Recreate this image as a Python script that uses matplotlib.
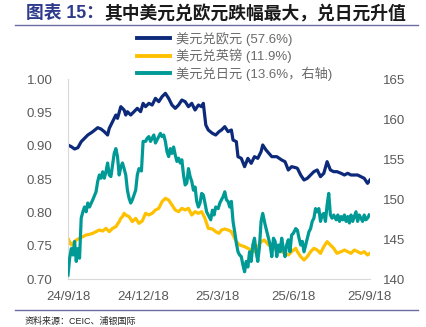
import matplotlib
matplotlib.use("Agg")
import matplotlib.pyplot as plt
import pandas as pd
from matplotlib.lines import Line2D

plt.rcParams['font.family'] = ['Liberation Sans', 'Noto Sans CJK SC']

START_DATE = "2024-09-18"

# USD/EUR (left axis) : days since START_DATE, value
eur_days = [0, 4, 8, 12, 16, 20, 24, 30, 36, 40, 44, 48, 50, 54, 58, 60, 64, 68, 70, 72, 76, 80, 84, 88, 91,
            94, 98, 102, 106, 110, 114, 118, 122, 126, 130, 134, 138, 142, 146, 150, 154, 158, 162, 164, 167,
            170, 175, 179, 183, 186, 190, 194, 198, 200, 204, 206, 210, 214, 218, 222, 226, 230, 234, 236, 240,
            247, 253, 259, 263, 267, 271, 276, 278, 282, 286, 290, 294, 298, 302, 306, 310, 314, 318, 322, 326,
            331, 335, 339, 343, 347, 351, 355, 359, 363, 366]
eur_vals = [0.901, 0.8985, 0.895, 0.897, 0.906, 0.911, 0.916, 0.921, 0.927, 0.925, 0.921, 0.916, 0.926, 0.936,
            0.946, 0.941, 0.9585, 0.9535, 0.946, 0.951, 0.946, 0.951, 0.956, 0.951, 0.9635,
            0.9585, 0.9635, 0.961, 0.971, 0.966, 0.9735, 0.9785, 0.971, 0.961, 0.956, 0.961, 0.9685, 0.966,
            0.9585, 0.9635, 0.9535, 0.961, 0.9585, 0.9635, 0.931,
            0.9235, 0.9185, 0.916, 0.921, 0.9235, 0.9285, 0.921, 0.9235, 0.9085, 0.906, 0.8835, 0.881, 0.8685,
            0.881, 0.8735, 0.8835, 0.881, 0.891, 0.901, 0.8935,
            0.8835, 0.8835, 0.8785, 0.876, 0.8635, 0.8685, 0.867, 0.866, 0.856, 0.8485, 0.851, 0.856, 0.861,
            0.8635, 0.8535, 0.8585, 0.876, 0.8635, 0.861, 0.861,
            0.8585, 0.856, 0.8585, 0.856, 0.856, 0.856, 0.8535, 0.851, 0.8435, 0.8485]

# USD/GBP (left axis)
gbp_days = [0, 2, 4, 6, 10, 14, 18, 22, 26, 30, 34, 38, 42, 46, 50, 54, 58, 62, 64, 66, 68, 70, 74, 78, 82, 86, 90,
            94, 98, 102, 106, 110, 114, 118, 122, 126, 130, 134, 138, 142, 146, 150, 154, 158, 162, 166, 170,
            175, 179, 183, 186, 190, 194, 198, 200, 204, 208, 214, 218, 222, 226, 230, 234, 238, 243, 247, 253,
            259, 263, 267, 271, 276, 278, 282, 286, 290, 294, 298, 302, 306, 310, 314, 318, 322, 326, 331, 335,
            339, 343, 347, 351, 355, 359, 363, 366]
gbp_vals = [0.761, 0.756, 0.751, 0.7535, 0.7585, 0.761, 0.7635, 0.766, 0.767, 0.7685, 0.771, 0.7735, 0.772,
            0.776, 0.771, 0.776, 0.7785, 0.786, 0.791, 0.7935, 0.7985, 0.796, 0.7935, 0.786, 0.791, 0.7835,
            0.787,
            0.7985, 0.796, 0.7985, 0.8035, 0.806, 0.816, 0.821, 0.8185, 0.811, 0.8035, 0.801, 0.806, 0.8035,
            0.806, 0.796, 0.801, 0.7985, 0.801, 0.791, 0.776,
            0.775, 0.771, 0.7685, 0.7735, 0.775, 0.7735, 0.771, 0.766, 0.756, 0.751, 0.7485, 0.746, 0.7435,
            0.741, 0.7485, 0.756, 0.7585, 0.751, 0.7485, 0.7435,
            0.741, 0.7385, 0.736, 0.741, 0.746, 0.741, 0.7335, 0.7285, 0.7335, 0.741, 0.746, 0.7435, 0.7385,
            0.7485, 0.756, 0.751, 0.746, 0.7385, 0.741, 0.7435,
            0.741, 0.7385, 0.7435, 0.741, 0.7385, 0.741, 0.736, 0.7385]

# USD/JPY (right axis)
jpy_days = [0, 2, 4, 6, 8, 10, 12, 14, 16, 18, 20, 22, 24, 26, 30, 34, 36, 38, 40, 42, 44, 46, 48, 50, 52, 54, 56,
            58, 60, 62, 64, 66, 68, 70, 72, 74, 76, 78, 80, 82, 84, 86, 89, 91,
            94, 96, 98, 100, 102, 104, 106, 108, 112, 114, 116, 118, 120, 122, 124, 126, 128, 130, 132, 134,
            136, 138, 140, 142, 144, 146, 148, 150, 152, 154, 156, 158, 160, 162, 164, 166, 168, 170, 173,
            175, 177, 179, 182, 184, 186, 188, 190, 192, 194, 196, 198, 200, 202, 204, 206, 208, 210, 212, 214,
            216, 218, 220, 222, 224, 226, 228, 230, 232, 234, 236, 239, 241, 243, 245, 247, 249, 251, 253, 255,
            257, 259, 261, 263, 265, 267, 269, 271, 273, 276, 278, 280, 282, 284, 286, 288, 290, 292, 294,
            296, 298, 300, 302, 304, 306, 308, 310, 312, 314, 316, 318, 320, 322, 325, 327, 329, 331, 333,
            335, 337, 339, 341, 343, 345, 347, 349, 351, 353, 355, 357, 359, 361, 363, 365]
jpy_vals = [140.5, 142.6, 143.8, 143.0, 144.7, 142.2, 143.8, 142.6, 147.6, 148.4, 149.0, 148.4, 149.5, 149.0,
            149.9, 150.9, 152.2, 153.0, 152.6, 153.4, 152.6, 153.4, 154.5, 153.0, 152.8, 154.25, 155.7,
            156.3, 155.3, 153.0, 154.0, 154.5, 153.8, 153.0, 151.1, 150.1, 149.5, 149.9, 150.5, 151.1, 153.0,
            153.8, 153.5, 157.2,
            157.2, 157.6, 157.8, 157.2, 157.6, 158.0, 157.0, 157.4, 158.2, 157.8, 158.0, 157.2, 155.9, 155.3,
            156.3, 155.7, 156.5, 155.5, 154.7, 155.1,
            154.5, 154.9, 153.0, 151.75, 152.0, 153.8, 152.8, 152.2, 151.1, 151.5, 149.7, 149.0, 149.5, 150.7,
            150.5, 149.5, 148.4, 148.0, 147.4,
            148.6, 148.0, 149.0, 148.8, 149.5, 149.9, 150.3, 150.9, 149.9, 149.7, 149.0, 149.7, 147.2, 145.9,
            144.5, 143.4, 143.0, 142.8, 141.75, 140.9,
            142.2, 141.5, 143.4, 142.2, 144.25, 145.1, 143.4, 142.2, 144.0, 147.2, 148.2, 146.75, 145.9, 145.1,
            144.25, 142.8, 145.1, 144.7, 142.8, 144.25,
            143.4, 145.1, 143.8, 142.8, 144.25, 144.9, 143.4, 145.5, 145.7, 146.3, 146.1, 145.1, 144.25, 144.7,
            143.4, 144.25, 145.1, 145.9, 146.3,
            147.2, 147.6, 148.8, 148.4, 148.8, 147.2, 148.0, 148.2, 147.2, 149.25, 150.7, 148.0, 147.6, 148.0,
            147.4, 148.0, 147.2, 147.8, 147.4,
            148.0, 147.2, 147.8, 147.0, 148.0, 147.2, 147.8, 148.4, 147.2, 148.0, 147.6, 147.2, 148.0, 147.4,
            147.6, 148.0]

series_labels = ["美元兑欧元 (57.6%)", "美元兑英镑 (11.9%)", "美元兑日元 (13.6%，右轴)"]
series_colors = ["#0D2A7A", "#FFC000", "#009A96"]

x_tick_dates = ["2024-09-18", "2024-12-18", "2025-03-18", "2025-06-18", "2025-09-18"]
x_tick_labels = ["24/9/18", "24/12/18", "25/3/18", "25/6/18", "25/9/18"]
left_ticks = [0.70, 0.75, 0.80, 0.85, 0.90, 0.95, 1.00]
right_ticks = [140, 145, 150, 155, 160, 165]

title_prefix = "图表 15："
title_main = "其中美元兑欧元跌幅最大，兑日元升值"
source_text = "资料来源：CEIC、浦银国际"

start = pd.Timestamp(START_DATE)
to_dates = lambda d: start + pd.to_timedelta(d, unit="D")

W, H = 427, 327
fig = plt.figure(figsize=(W / 100, H / 100), dpi=100)
ax = fig.add_axes([68 / W, 1 - 279 / H, (370 - 68) / W, 200 / H])
ax2 = ax.twinx()

lw = 2.3
ax.plot(to_dates(eur_days), eur_vals, color=series_colors[0], lw=lw, solid_joinstyle="round")
ax.plot(to_dates(gbp_days), gbp_vals, color=series_colors[1], lw=lw, solid_joinstyle="round")
ax2.plot(to_dates(jpy_days), jpy_vals, color=series_colors[2], lw=lw, solid_joinstyle="round")

ax.set_xlim(start, start + pd.Timedelta(days=366))
ax.set_ylim(0.70, 1.00)
ax2.set_ylim(140, 165)
ax.set_yticks(left_ticks)
ax.set_yticklabels([f"{v:.2f}" for v in left_ticks])
ax2.set_yticks(right_ticks)
ax2.set_yticklabels([str(v) for v in right_ticks])
ax.set_xticks(pd.to_datetime(x_tick_dates))
ax.set_xticklabels(x_tick_labels)

tick_color = "#595959"
ax.tick_params(axis="y", length=0, pad=11, labelsize=9.5, labelcolor=tick_color)
ax2.tick_params(axis="y", length=0, pad=9.5, labelsize=9.5, labelcolor=tick_color)
ax.tick_params(axis="x", length=0, pad=9, labelsize=9.5, labelcolor=tick_color)

for a in (ax, ax2):
    for s in ("top", "right"):
        a.spines[s].set_visible(False)
ax2.spines["left"].set_visible(False)
ax2.spines["bottom"].set_visible(False)
ax.spines["left"].set_color("#D9D9D9")
ax.spines["bottom"].set_color("#D9D9D9")
ax.spines["left"].set_linewidth(0.8)
ax.spines["bottom"].set_linewidth(0.8)

handles = [Line2D([], [], color=c, lw=2.8) for c in series_colors]
leg = fig.legend(handles, series_labels, loc="upper left", bbox_to_anchor=(137 / W, 1 - 32 / H),
                 frameon=False, fontsize=9.5, handlelength=2.5, handletextpad=0.45,
                 labelspacing=0.22, borderpad=0, borderaxespad=0)
for t in leg.get_texts():
    t.set_color("#6A6A6A")

# title
t1 = fig.text(26 / W, 1 - 14 / H, title_prefix, fontsize=12.8, fontweight="bold",
              color="#2E3A8C", va="center", ha="left")
fig.canvas.draw()
bb = t1.get_window_extent(fig.canvas.get_renderer())
fig.text(bb.x1 / W, 1 - 14 / H, title_main, fontsize=12.8, fontweight="bold",
         color="#1A1A1A", va="center", ha="left")

line_color = "#6B6BA3"
fig.add_artist(Line2D([15 / W, 418 / W], [1 - 24.5 / H, 1 - 24.5 / H], color=line_color, lw=1.0))
fig.add_artist(Line2D([15 / W, 418 / W], [1 - 310 / H, 1 - 310 / H], color=line_color, lw=1.0))

fig.text(25 / W, 1 - 321 / H, source_text, fontsize=6.5, color="#262626", va="center", ha="left")

fig.savefig("out.png", dpi=100)
